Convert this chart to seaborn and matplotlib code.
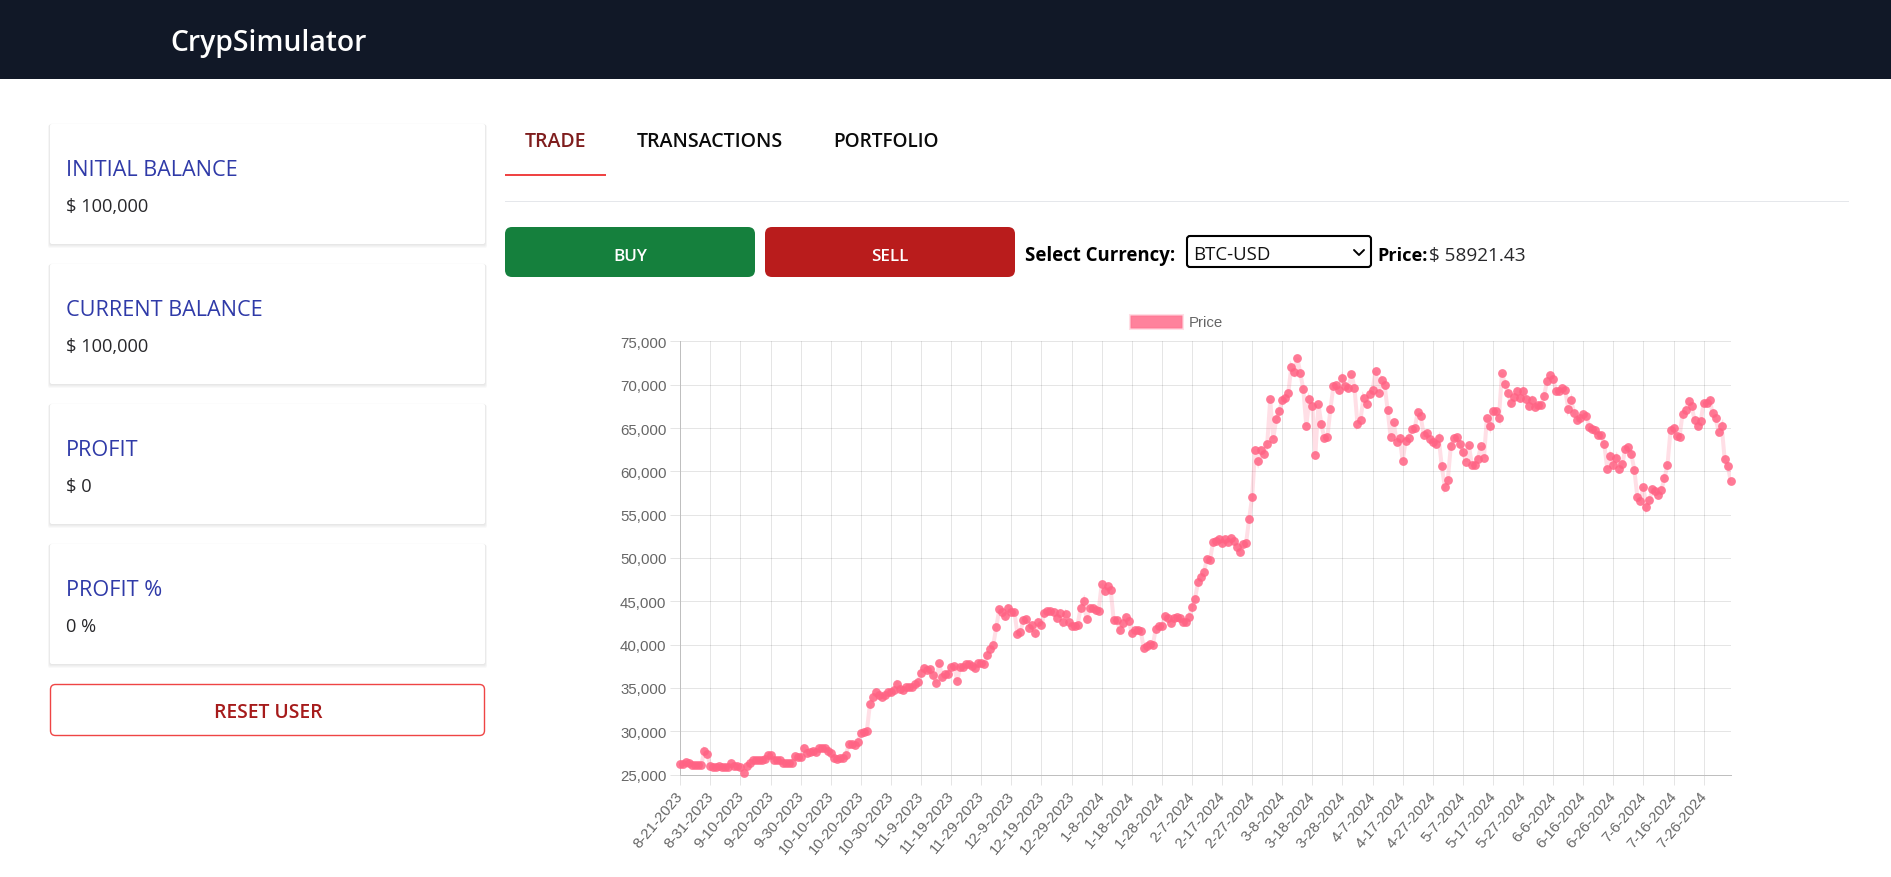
"""
plot.py redraws the CrypSimulator trade page with its BTC-USD price chart.
"""

import matplotlib
matplotlib.use("Agg")

import matplotlib.pyplot as plt
import seaborn as sns
from matplotlib.patches import FancyBboxPatch, Patch, Rectangle
from matplotlib.transforms import ScaledTranslation

# one closing price per day
price = [
    26190, 26190, 26490, 26280, 26150, 26060, 26110, 26150, 27770, 27340,
    25940, 25850, 25890, 26020, 25890, 25850, 25810, 26360, 25980, 25940,
    25850, 25210, 25940, 26280, 26620, 26700, 26660, 26620, 26790, 27300,
    27210, 26660, 26620, 26660, 26320, 26280, 26280, 26360, 27090, 27000,
    27000, 28020, 27510, 27550, 27770, 27550, 28060, 28110, 28060, 27720,
    27470, 26870, 26830, 26870, 26960, 27210, 28570, 28490, 28400, 28790,
    29770, 29940, 30060, 33130, 33940, 34530, 34150, 33940, 34150, 34570,
    34570, 34700, 35470, 34870, 34790, 35130, 35080, 35130, 35420, 35640,
    36740, 37340, 37080, 37130, 36490, 35550, 37890, 36230, 36660, 36660,
    37420, 37510, 35770, 37420, 37420, 37770, 37810, 37550, 37250, 37890,
    37890, 37770, 38740, 39470, 39980, 42020, 44100, 43810, 43250, 44230,
    43770, 43770, 41250, 41470, 42870, 43000, 41930, 42230, 41380, 42660,
    42280, 43680, 43890, 43930, 43720, 43040, 43590, 42570, 43510, 42620,
    42110, 42150, 42280, 44230, 45000, 42910, 44230, 44230, 44020, 43930,
    47000, 46150, 46740, 46320, 42790, 42830, 41720, 42530, 43170, 42740,
    41340, 41640, 41720, 41550, 39550, 39890, 40110, 39980, 41810, 42150,
    42110, 43300, 43040, 42530, 43080, 43210, 43040, 42570, 42620, 43130,
    44360, 45300, 47170, 47760, 48360, 49930, 49720, 51850, 51980, 52230,
    51680, 52190, 51810, 52320, 51930, 51300, 50740, 51590, 51760, 54530,
    57040, 62490, 61170, 62440, 62020, 63120, 68320, 63760, 66060, 66910,
    68230, 68440, 69000, 72060, 71420, 73080, 71340, 69460, 65210, 68320,
    67590, 61890, 67810, 65420, 63810, 63980, 67170, 69850, 69930, 69420,
    70780, 69890, 69630, 71250, 69630, 65420, 65980, 68490, 67810, 68870,
    69340, 71590, 69080, 70570, 69980, 67120, 63980, 65720, 63420, 63810,
    61250, 63470, 63810, 64910, 64950, 66830, 66360, 64230, 64440, 63720,
    63420, 63120, 63810, 60570, 58230, 59040, 62870, 63850, 63980, 63120,
    62270, 61130, 63040, 60780, 60780, 61460, 62870, 61510, 66190, 65210,
    67000, 66910, 66190, 71380, 70060, 69040, 67890, 68530, 69250, 68490,
    69300, 68320, 67550, 68270, 67420, 67640, 67680, 68740, 70440, 71080,
    70700, 69250, 69250, 69590, 69420, 67250, 68190, 66700, 65980, 66190,
    66610, 66400, 65120, 64910, 64780, 64150, 64150, 63120, 60230, 61720,
    60780, 61590, 60270, 60870, 62610, 62780, 61980, 60100, 57000, 56610,
    58190, 55850, 56660, 57980, 57760, 57300, 57890, 59210, 60740, 64740,
    65000, 64060, 63980, 66660, 67120, 68100, 67510, 65930, 65290, 65760,
    67850, 67890, 68230, 66740, 66100, 64570, 65250, 61380, 60660, 58921.43,
]
day_index = list(range(len(price)))

date_labels = [
    "8-21-2023", "8-31-2023", "9-10-2023", "9-20-2023", "9-30-2023",
    "10-10-2023", "10-20-2023", "10-30-2023", "11-9-2023", "11-19-2023",
    "11-29-2023", "12-9-2023", "12-19-2023", "12-29-2023", "1-8-2024",
    "1-18-2024", "1-28-2024", "2-7-2024", "2-17-2024", "2-27-2024",
    "3-8-2024", "3-18-2024", "3-28-2024", "4-7-2024", "4-17-2024",
    "4-27-2024", "5-7-2024", "5-17-2024", "5-27-2024", "6-6-2024",
    "6-16-2024", "6-26-2024", "7-6-2024", "7-16-2024", "7-26-2024",
]
price_ticks = [25000, 30000, 35000, 40000, 45000, 50000,
               55000, 60000, 65000, 70000, 75000]

card_titles = ["INITIAL BALANCE", "CURRENT BALANCE", "PROFIT", "PROFIT %"]
card_values = ["$ 100,000", "$ 100,000", "$ 0", "0 %"]

WIDTH, HEIGHT = 1891, 878
PINK = "#ff6384"
UI_FONT = "Open Sans"
CHART_FONT = "Liberation Sans"


def box(ui, left, top, right, bottom, radius=0, **kwargs):
    """Add a rounded box given in page pixels."""
    patch = FancyBboxPatch((left, top), right - left, bottom - top,
                           boxstyle=f"round,pad=0,rounding_size={radius}",
                           **kwargs)
    ui.add_patch(patch)


def label(ui, x, y, text, size, color="#1f2937", weight="normal", ha="left"):
    """Write page text, sizes are in pixels."""
    ui.text(x, y, text, fontsize=size * 0.72, color=color, fontweight=weight,
            ha=ha, va="center", family=UI_FONT)


def draw_page(ui):
    """Draw the header, cards, tabs and controls around the chart."""
    ui.add_patch(Rectangle((0, 0), WIDTH, 80, color="#111827", lw=0))
    label(ui, 170, 44, "CrypSimulator", 28.2, color="white", weight="semibold")

    for i, top in enumerate([125, 265, 405, 545]):
        for spread in [4, 3, 2, 1]:
            box(ui, 50 - spread / 2, top + spread / 2 - 1,
                485 + spread / 2, top + 120 + spread,
                radius=2, fc=(0, 0, 0, 0.022), ec="none")
        box(ui, 50, top, 485, top + 120, radius=2, fc="white", ec="none")
        label(ui, 65.5, top + 46, card_titles[i], 21.6, color="#2f3aa8")
        label(ui, 65.5, top + 82, card_values[i], 18.3, color="#27272a")

    box(ui, 50.5, 685.5, 484.5, 736.5, radius=5, fc="white", ec="#ef4444", lw=1)
    label(ui, 268, 713, "RESET USER", 19.3, color="#a61b1b",
          weight="semibold", ha="center")

    label(ui, 525, 142, "TRADE", 19.5, color="#7f1d1d", weight="semibold")
    label(ui, 637, 142, "TRANSACTIONS", 19.7, color="#0b0b0b", weight="semibold")
    label(ui, 833, 142, "PORTFOLIO", 19, color="#0b0b0b", weight="semibold")
    ui.add_patch(Rectangle((505, 175), 101, 2, color="#ef4444", lw=0))
    ui.add_patch(Rectangle((505, 202), 1344, 1, color="#e5e7eb", lw=0))

    box(ui, 505, 228, 755, 278, radius=7, fc="#15803d", ec="none")
    box(ui, 765, 228, 1015, 278, radius=7, fc="#b91c1c", ec="none")
    label(ui, 630, 257, "BUY", 17, color="white", weight="semibold", ha="center")
    label(ui, 890, 257, "SELL", 17, color="white", weight="semibold", ha="center")

    label(ui, 1025, 256, "Select Currency:", 18.7, color="black", weight="bold")
    box(ui, 1187, 237, 1371, 268, radius=3, fc="white", ec="black", lw=1.5)
    label(ui, 1193, 255, "BTC-USD", 18.7, color="#111111")
    ui.plot([1354, 1359, 1364], [251, 256, 251], color="black", lw=1.4)
    label(ui, 1377, 256, "Price:", 18.2, color="black", weight="bold")
    label(ui, 1429, 256, "$ 58921.43", 19, color="#27272a")


def draw_chart(ax):
    """Draw the price line with its points, axes and legend."""
    sns.lineplot(x=day_index, y=price, ax=ax, color=PINK, alpha=0.2, lw=2.9,
                 errorbar=None, sort=False, solid_joinstyle="miter")
    sns.scatterplot(x=day_index, y=price, ax=ax, color=PINK, alpha=0.85, s=40,
                    linewidth=0, clip_on=False, zorder=3)

    ax.set_xlim(day_index[0], day_index[-1])
    ax.set_ylim(price_ticks[0], price_ticks[-1])
    ax.set_xticks(day_index[::10])
    ax.set_xticklabels(date_labels, rotation=50, ha="right",
                       rotation_mode="anchor")
    ax.set_yticks(price_ticks)
    ax.set_yticklabels([f"{p:,}" for p in price_ticks])
    ax.tick_params(axis="both", length=7, width=0.72, color="#e5e5e5", pad=3,
                   labelsize=10.8, labelcolor="#666666",
                   bottom=True, left=True)
    # the date labels sit a little left of their ticks
    shift = ScaledTranslation(-0.05, 0, ax.figure.dpi_scale_trans)
    for tick_label in ax.get_xticklabels():
        tick_label.set_transform(tick_label.get_transform() + shift)
    ax.grid(True, color="black", alpha=0.1, lw=0.72)
    ax.set_axisbelow(True)
    sns.despine(ax=ax, top=True, right=True)
    for side in ["left", "bottom"]:
        ax.spines[side].set_color("#bfbfbf")
        ax.spines[side].set_linewidth(0.72)

    handle = Patch(facecolor=(1, 0.388, 0.518, 0.8),
                   edgecolor=(1, 0.388, 0.518, 0.2), lw=2.2, label="Price")
    ax.legend(handles=[handle], loc="center left", frameon=False,
              bbox_to_anchor=(1130 / WIDTH, 1 - 323 / HEIGHT),
              bbox_transform=ax.figure.transFigure, borderpad=0, borderaxespad=0,
              handlelength=3.45, handleheight=1.0, handletextpad=0.5,
              labelcolor="#666666", fontsize=10.8)


def main():
    """Lay out the page and save the figure."""
    sns.set_theme(style="white")
    plt.rcParams["font.family"] = [CHART_FONT, "DejaVu Sans"]

    fig = plt.figure(figsize=(WIDTH / 100, HEIGHT / 100), dpi=100)
    ui = fig.add_axes([0, 0, 1, 1], zorder=0)
    ui.set_xlim(0, WIDTH)
    ui.set_ylim(HEIGHT, 0)
    ui.axis("off")
    draw_page(ui)

    left, right, top, bottom = 680.3, 1730.7, 342.4, 775.5
    ax = fig.add_axes([left / WIDTH, 1 - bottom / HEIGHT,
                       (right - left) / WIDTH, (bottom - top) / HEIGHT], zorder=1)
    ax.patch.set_alpha(0)
    draw_chart(ax)

    fig.savefig("out.png", dpi=100)
    plt.close(fig)


main()
